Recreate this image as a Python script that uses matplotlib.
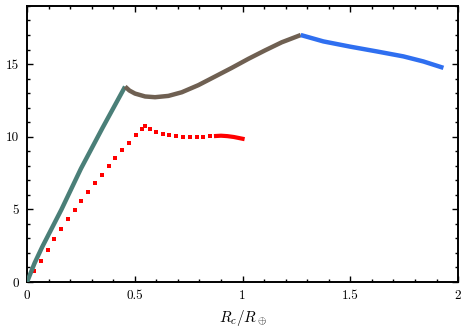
import matplotlib
matplotlib.use("Agg")
import matplotlib.pyplot as plt
from matplotlib.ticker import MultipleLocator

plt.rcParams['font.family'] = 'cmr10'
plt.rcParams['mathtext.fontset'] = 'cm'
plt.rcParams['axes.formatter.use_mathtext'] = True

# teal branch
teal_x = [0.0, 0.035, 0.07, 0.16, 0.25, 0.35, 0.455]
teal_y = [0.0, 1.3, 2.4, 5.0, 7.8, 10.6, 13.45]

# brown branch
brown_x = [0.455, 0.475, 0.501, 0.548, 0.594, 0.656, 0.718, 0.795, 0.872,
           0.95, 1.027, 1.104, 1.182, 1.27]
brown_y = [13.45, 13.18, 12.97, 12.77, 12.72, 12.81, 13.06, 13.55, 14.14,
           14.74, 15.36, 15.94, 16.5, 17.0]

# blue branch
blue_x = [1.27, 1.375, 1.499, 1.623, 1.746, 1.839, 1.932]
blue_y = [17.0, 16.56, 16.2, 15.87, 15.53, 15.18, 14.74]

# red dotted points
red_x = [0.0, 0.031, 0.063, 0.096, 0.127, 0.158, 0.192, 0.221, 0.252, 0.285,
         0.317, 0.347, 0.379, 0.41, 0.441, 0.473, 0.504, 0.535, 0.548, 0.569,
         0.599, 0.63, 0.66, 0.693, 0.724, 0.755, 0.787, 0.818, 0.849]
red_y = [0.0, 0.76, 1.47, 2.2, 2.93, 3.64, 4.37, 4.97, 5.57, 6.2,
         6.8, 7.39, 7.97, 8.52, 9.07, 9.6, 10.09, 10.55, 10.74, 10.55,
         10.35, 10.19, 10.09, 10.02, 10.0, 10.0, 10.0, 10.0, 10.02]
# red solid tail
tail_x = [0.877, 0.9, 0.93, 0.96, 0.98, 1.0]
tail_y = [10.05, 10.07, 10.04, 9.98, 9.92, 9.86]

fig = plt.figure(figsize=(4.66, 3.31), dpi=100)
ax = fig.add_axes([0.058, 0.148, 0.925, 0.834])

ax.plot(teal_x, teal_y, color='#4a7f78', lw=3.2, solid_capstyle='butt', zorder=3)
ax.plot(brown_x, brown_y, color='#6f6052', lw=3.2, solid_capstyle='butt', zorder=3)
ax.plot(blue_x, blue_y, color='#2f6ff0', lw=3.2, solid_capstyle='butt', zorder=3)
ax.plot(red_x, red_y, 's', color='#ff0000', ms=3.4, mew=0, zorder=2)
ax.plot(tail_x, tail_y, color='#ff0000', lw=3.0, zorder=2)

ax.set_xlim(0, 2)
ax.set_ylim(0, 19)
ax.set_xticks([0, 0.5, 1, 1.5, 2])
ax.set_xticklabels(['0', '0.5', '1', '1.5', '2'])
ax.set_yticks([0, 5, 10, 15])
ax.set_yticklabels(['0', '5', '10', '15'])
ax.xaxis.set_minor_locator(MultipleLocator(0.1))
ax.yaxis.set_minor_locator(MultipleLocator(1))
ax.tick_params(which='both', direction='in', top=True, right=True, labelsize=9.5, width=1.0)
ax.tick_params(which='major', length=4, pad=6)
ax.tick_params(which='minor', length=2.2)
for s in ax.spines.values():
    s.set_linewidth(1.4)

ax.set_xlabel(r'$R_c/R_\oplus$', fontsize=11, labelpad=4)

fig.savefig('out.png', dpi=100)
